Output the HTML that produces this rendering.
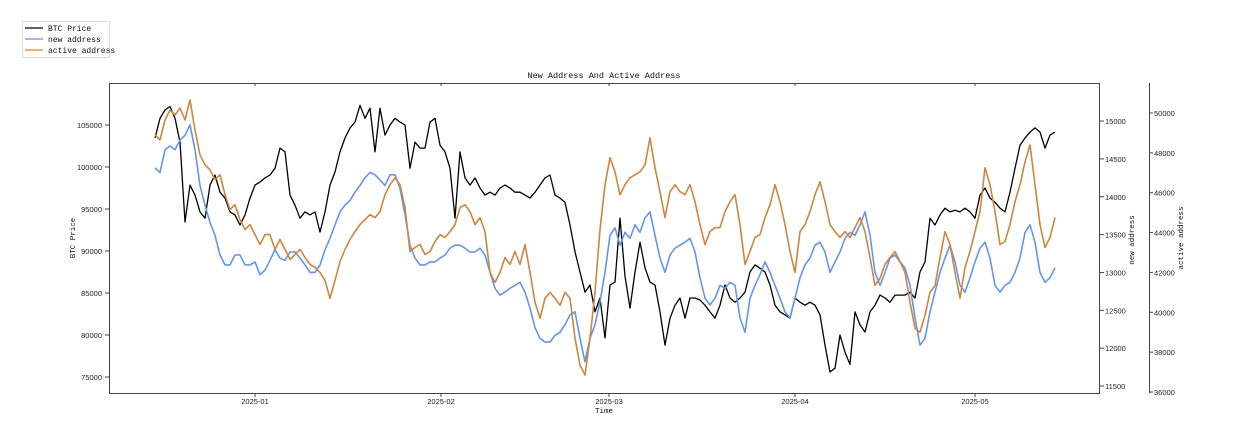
<!DOCTYPE html>
<html><head><meta charset="utf-8">
<style>
html,body{margin:0;padding:0;background:#fff;}
svg{display:block;font-family:"Liberation Sans",sans-serif;}
.tk{font-size:7.5px;fill:#222;}
.mono{font-family:"Liberation Mono","DejaVu Sans Mono",monospace;font-size:8px;fill:#111;}
.ax{font-family:"Liberation Mono","DejaVu Sans Mono",monospace;font-size:7.5px;fill:#111;}
</style></head>
<body>
<svg id="chart" width="1258" height="436" viewBox="0 0 1258 436">
  <g id="legend">
    <rect x="22.5" y="21.5" width="87" height="36" fill="#fff" stroke="#ddd"/>
    <line x1="25" y1="28" x2="43" y2="28" stroke="#000" stroke-width="1.3"/>
    <text x="48" y="31" class="mono">BTC Price</text>
    <line x1="25" y1="39" x2="43" y2="39" stroke="#6495ED" stroke-width="1.3"/>
    <text x="48" y="42" class="mono">new address</text>
    <line x1="25" y1="50" x2="43" y2="50" stroke="#CD853F" stroke-width="1.3"/>
    <text x="48" y="53" class="mono">active address</text>
  </g>
  <text x="604" y="78" text-anchor="middle" class="mono" style="font-size:8.5px">New Address And Active Address</text>
  <text x="604" y="413" text-anchor="middle" class="ax">Time</text>
  <text transform="translate(75,238) rotate(-90)" text-anchor="middle" class="ax">BTC Price</text>
  <text transform="translate(1134,240) rotate(-90)" text-anchor="middle" class="ax">new address</text>
  <text transform="translate(1183,238) rotate(-90)" text-anchor="middle" class="ax">active address</text>
  <g id="axes"></g>
  <g id="series"></g>
  <rect x="109.5" y="83.5" width="990" height="310" fill="none" stroke="#444" stroke-width="1"/>
  <line x1="1149.5" y1="83" x2="1149.5" y2="393" stroke="#444" stroke-width="1"/>
</svg>
<script>
const btcPrice = [103450,105800,106800,107200,105800,102950,93450,97850,96650,94650,93900,97850,99050,97000,96300,94650,94300,93100,94300,96300,97850,98200,98700,99050,99850,102250,101800,96650,95450,93900,94650,94300,94650,92250,94650,97850,99400,101800,103450,104650,105350,107350,105800,107000,101800,107000,103800,105000,105800,105350,105000,99850,102950,102250,102250,105350,105800,102600,101800,99850,93900,101800,98700,97850,98700,97500,96650,97000,96650,97500,97850,97500,97000,97000,96650,96300,97000,97850,98700,99050,96650,96300,95800,93100,89900,87500,85100,85950,82750,84400,79650,85950,86300,93900,87000,83200,87500,91050,88000,86300,85950,82750,78800,82000,83550,84400,82000,84400,84400,84150,83550,82750,82000,83550,85950,84400,83900,84400,85100,87500,88350,87950,87500,85950,83550,82750,82400,82000,84400,83900,83550,83900,83550,82400,78800,75600,76050,80000,77950,76500,82750,81200,80350,82750,83550,84750,84400,83900,84750,84750,84750,85100,84400,87500,88700,93900,93100,94300,95100,94650,94850,94650,95100,94650,93900,96650,97500,96300,95800,95100,94650,97000,99850,102600,103450,104150,104650,104150,102250,103800,104150];
const newAddress = [14380,14320,14620,14670,14620,14750,14810,14950,14620,14150,13890,13660,13490,13230,13100,13100,13230,13230,13100,13100,13140,12970,13030,13160,13300,13190,13160,13270,13270,13190,13100,13000,13000,13100,13300,13450,13630,13800,13890,13950,14060,14150,14250,14320,14290,14220,14150,14290,14290,14110,13760,13360,13190,13100,13100,13140,13140,13190,13230,13320,13360,13360,13320,13270,13270,13320,13230,13000,12790,12700,12740,12790,12830,12870,12740,12530,12270,12130,12080,12080,12170,12210,12310,12440,12480,12130,11820,12130,12310,12610,13000,13490,13590,13360,13530,13450,13630,13530,13720,13800,13490,13190,13000,13230,13320,13360,13400,13450,13270,12930,12660,12570,12660,12830,12790,12870,12830,12400,12210,12660,12830,12970,13140,13000,12830,12660,12480,12400,12660,12930,13100,13190,13360,13400,13270,13000,13140,13270,13450,13530,13490,13630,13800,13490,13000,12830,13000,13190,13230,13140,13060,12830,12400,12040,12130,12480,12740,13000,13190,13360,13140,12830,12740,12930,13140,13320,13400,13190,12830,12740,12830,12870,13000,13190,13530,13630,13400,13000,12870,12930,13060];
const activeAddress = [48900,48650,49650,50150,49900,50250,49650,50650,49150,47900,47400,47150,46650,46900,45900,45150,45400,44650,44150,44400,43900,43400,43900,43900,43150,43650,43150,42650,42900,43150,42750,42400,42250,42000,41600,40700,41600,42550,43150,43650,44050,44400,44650,44900,44750,45050,45900,46400,46750,46400,45250,43050,43250,43400,42900,43050,43550,43900,43750,44050,44400,45250,45400,45050,44400,44750,44050,42000,41500,42000,42750,42400,43050,42400,43400,42000,40500,39700,40700,41000,40700,40350,41000,40700,38700,37350,36850,38700,41000,44150,46400,47750,47050,45900,46400,46750,46900,47050,47400,48750,47250,46050,44750,46050,46400,46050,45900,46400,45550,44400,43400,44050,44250,44250,45050,45550,45900,44400,42400,43050,43750,43900,44750,45400,46400,45550,44400,43050,42000,44050,44400,45050,45900,46550,45550,44400,44050,43750,44050,43750,44250,44750,44050,42750,41350,41700,42400,42750,43050,42550,42000,40500,39200,39000,39850,41000,41350,42750,44050,43400,42000,40700,42250,43050,44050,45050,47250,46400,45050,43400,43550,44400,45550,46400,47550,48400,46400,44400,43250,43750,44750];
const xTickLabels = ["2025-01","2025-02","2025-03","2025-04","2025-05"];
const xTickDays = [0,31,59,90,120];
const btcTicks = [75000,80000,85000,90000,95000,100000,105000];
const newTicks = [11500,12000,12500,13000,13500,14000,14500,15000];
const activeTicks = [36000,38000,40000,42000,44000,46000,48000,50000];
const startHour = -400, stepHour = 20; // hours relative to 2025-01-01

const NS = "http://www.w3.org/2000/svg";
const xOfHour = h => 255 + h / 4;
const yBtc = v => 377 - (v - 75000) * 0.0084;
const yNew = v => 386 - (v - 11500) * 0.0757;
const yAct = v => 392 - (v - 36000) * 0.01993;

const axes = document.getElementById('axes');
const series = document.getElementById('series');
function mk(tag, attrs, parent) {
  const el = document.createElementNS(NS, tag);
  for (const k in attrs) el.setAttribute(k, attrs[k]);
  parent.appendChild(el);
  return el;
}
xTickDays.forEach((d, i) => {
  const x = xOfHour(d * 24);
  const t = mk('line', {x1: x, y1: 393, x2: x, y2: 397, stroke: '#444'}, axes);
  
  
  const t2 = mk('line', {x1: x, y1: 83, x2: x, y2: 86, stroke: '#444'}, axes);
  
  
  const lb = mk('text', {x: x, y: 404, 'text-anchor': 'middle', class: 'tk'}, axes);
  lb.textContent = xTickLabels[i];
  
  
});
btcTicks.forEach(v => {
  const y = yBtc(v);
  const t = mk('line', {x1: 105, y1: y, x2: 109, y2: y, stroke: '#444'}, axes);
  
  
  const lb = mk('text', {x: 102, y: y + 3, 'text-anchor': 'end', class: 'tk'}, axes);
  lb.textContent = v;
  
  
});
newTicks.forEach(v => {
  const y = yNew(v);
  const t = mk('line', {x1: 1100, y1: y, x2: 1104, y2: y, stroke: '#444'}, axes);
  
  
  const lb = mk('text', {x: 1105, y: y + 3, class: 'tk'}, axes);
  lb.textContent = v;
  
  
});
activeTicks.forEach(v => {
  const y = yAct(v);
  const t = mk('line', {x1: 1149, y1: y, x2: 1153, y2: y, stroke: '#444'}, axes);
  
  
  const lb = mk('text', {x: 1154, y: y + 3, class: 'tk'}, axes);
  lb.textContent = v;
  
  
});
function path(vals, yf, color, w) {
  let d = '';
  vals.forEach((v, i) => {
    const x = xOfHour(startHour + i * stepHour);
    d += (i ? 'L' : 'M') + x.toFixed(1) + ' ' + yf(v).toFixed(1);
  });
  return mk('path', {d: d, fill: 'none', stroke: color, 'stroke-width': w, 'stroke-linejoin': 'round'}, series);
}
const p1 = path(btcPrice, yBtc, '#000', 1.3);


const p2 = path(newAddress, yNew, '#6495ED', 1.6);


const p3 = path(activeAddress, yAct, '#CD853F', 1.6);


</script>
</body></html>
